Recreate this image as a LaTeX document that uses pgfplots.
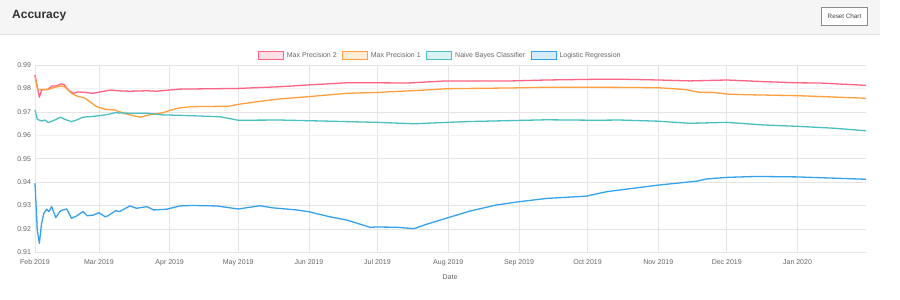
\documentclass[border=0pt]{standalone}
\usepackage{pgfplots}
\pgfplotsset{compat=1.18}
\usepackage{fontspec}
\setmainfont{Liberation Sans}
\definecolor{cred}{RGB}{255,99,132}
\definecolor{corange}{RGB}{255,159,64}
\definecolor{cteal}{RGB}{75,192,192}
\definecolor{cblue}{RGB}{54,162,235}
\definecolor{txt}{RGB}{102,102,102}
\definecolor{hdr}{RGB}{245,245,245}
\begin{document}
\begin{tikzpicture}
\useasboundingbox (0,0) rectangle (900pt,300pt);
\fill[white] (0,0) rectangle (900pt,300pt);
% header bar
\fill[hdr] (0,265.7pt) rectangle (880pt,300pt);
\draw[black!12,line width=0.6pt] (0,265.7pt) -- (880pt,265.7pt);
\node[anchor=west,font=\fontsize{12}{14}\selectfont\bfseries,text=black!80,inner sep=0pt] at (12pt,284pt) {Accuracy};
\draw[fill=white,draw=black!45,line width=0.6pt] (821.7pt,275pt) rectangle (867.3pt,292.7pt);
\node[font=\fontsize{6.3}{7}\selectfont,text=black!75,inner sep=0pt] at (844.5pt,283.8pt) {Reset Chart};
% legend
\def\ly{244.5pt}
\draw[cred,fill=cred!20,line width=0.8pt] (258.3pt,240.3pt) rectangle (283.3pt,248.7pt);
\node[anchor=west,inner sep=0pt,font=\fontsize{7}{8}\selectfont,text=txt] at (286.7pt,\ly) {Max Precision 2};
\draw[corange,fill=corange!20,line width=0.8pt] (342.7pt,240.3pt) rectangle (367.3pt,248.7pt);
\node[anchor=west,inner sep=0pt,font=\fontsize{7}{8}\selectfont,text=txt] at (370.7pt,\ly) {Max Precision 1};
\draw[cteal,fill=cteal!20,line width=0.8pt] (426.7pt,240.3pt) rectangle (451.7pt,248.7pt);
\node[anchor=west,inner sep=0pt,font=\fontsize{7}{8}\selectfont,text=txt] at (455pt,\ly) {Naive Bayes Classifier};
\draw[cblue,fill=cblue!20,line width=0.8pt] (531pt,240.3pt) rectangle (556pt,248.7pt);
\node[anchor=west,inner sep=0pt,font=\fontsize{7}{8}\selectfont,text=txt] at (559.3pt,\ly) {Logistic Regression};
\node[font=\fontsize{7}{8}\selectfont,text=txt,inner sep=0pt] at (450pt,23pt) {Date};
\begin{axis}[
  at={(35pt,47.7pt)}, anchor=south west,
  scale only axis, width=831pt, height=187.3pt,
  xmin=0, xmax=364, ymin=0.91, ymax=0.99,
  ytick={0.91,0.92,0.93,0.94,0.95,0.96,0.97,0.98,0.99},
  yticklabels={0.91,0.92,0.93,0.94,0.95,0.96,0.97,0.98,0.99},
  xtick={0,28,59,89,120,150,181,212,242,273,303,334},
  xticklabels={Feb 2019,Mar 2019,Apr 2019,May 2019,Jun 2019,Jul 2019,Aug 2019,Sep 2019,Oct 2019,Nov 2019,Dec 2019,Jan 2020},
  grid=major,
  major grid style={draw=black!10,line width=0.6pt},
  axis line style={draw=none},
  tick style={draw=none},
  ticklabel style={font=\fontsize{7}{8}\selectfont,text=txt},
  xticklabel style={yshift=-4pt},
  yticklabel style={xshift=-0.5pt},
  /pgf/number format/assume math mode=true,
  clip=false,
  every axis plot/.append style={line width=1.3pt, no markers, line join=round},
]
\addplot[draw=black!5,line width=1.4pt,forget plot] coordinates {(0,0.98) (364,0.98)};
\addplot[draw=black!5,line width=1.4pt,forget plot] coordinates {(0,0.96) (364,0.96)};
% Max Precision 2
\addplot[cred] coordinates {
(0,0.9857) (1.9,0.9762) (2.9,0.9793) (5.8,0.9796) (7.3,0.9810) (9.5,0.9810)
(11.2,0.9819) (12.8,0.9816) (14.6,0.9793) (16.8,0.9779) (19,0.9785) (21.9,0.9783)
(25.5,0.9779) (28.5,0.9785) (32.9,0.9793) (36,0.9790) (41.6,0.9788) (49,0.9790)
(53,0.9788) (63.5,0.9797) (89,0.9800) (107,0.9807) (120,0.9815) (136.5,0.9824)
(150,0.9824) (163,0.9823) (180,0.9832) (209,0.9832) (224,0.9836) (246,0.9839)
(258,0.9839) (273,0.9836) (287,0.9832) (303,0.9836) (319,0.9829) (334,0.9824)
(344,0.9823) (364,0.9813)};
% Max Precision 1
\addplot[corange] coordinates {
(0,0.9850) (1.2,0.9795) (5.8,0.9796) (8.8,0.9805) (11.2,0.9810) (13,0.9807)
(16,0.9779) (18.2,0.9768) (21.9,0.9758) (24,0.9743) (27,0.9722) (30.7,0.9711)
(35,0.9708) (38.7,0.9694) (46,0.9677) (50,0.9687) (56,0.9696) (59,0.9706)
(63.5,0.9717) (68.6,0.9722) (85,0.9724) (89,0.9732) (101,0.9748) (107,0.9755)
(120,0.9765) (136.5,0.9779) (150,0.9783) (169,0.9792) (181,0.9799) (209,0.9802)
(224,0.9805) (246,0.9805) (273,0.9803) (285,0.9795) (291,0.9783) (297,0.9783)
(303,0.9776) (312,0.9773) (334,0.9769) (364,0.9758)};
% Naive Bayes
\addplot[cteal] coordinates {
(0,0.9708) (1,0.9668) (2.9,0.9661) (4.4,0.9665) (5.8,0.9654) (8,0.9662)
(11.2,0.9677) (13,0.9668) (16,0.9658) (18.2,0.9665) (21,0.9677) (27,0.9682)
(32,0.9689) (35,0.9696) (41.6,0.9694) (49,0.9694) (56,0.9687) (63.5,0.9685)
(81,0.9679) (89,0.9664) (107,0.9665) (129,0.9660) (150,0.9655) (166,0.9649)
(188,0.9658) (224,0.9666) (246,0.9664) (256,0.9665) (273,0.9660) (287,0.9651)
(303,0.9655) (319,0.9644) (334,0.9638) (350,0.9630) (364,0.9619)};
% Logistic Regression
\addplot[cblue] coordinates {
(0,0.9395) (1,0.9195) (1.9,0.9138) (2.9,0.9224) (3.9,0.9267) (5.1,0.9284)
(6.1,0.9274) (7.3,0.9295) (9.1,0.9248) (11.2,0.9278) (13.9,0.9285) (16,0.9245)
(18.2,0.9255) (21,0.9274) (22.9,0.9256) (25.5,0.9259) (28,0.9269) (30.7,0.9252)
(32,0.9256) (35.3,0.9278) (37,0.9274) (41.6,0.9298) (44.5,0.9288) (49,0.9295)
(52,0.9281) (57.7,0.9284) (63.5,0.9298) (68.6,0.9300) (79.6,0.9298) (89,0.9285)
(98.5,0.9299) (104,0.9290) (114.6,0.9281) (120,0.9273) (129,0.9252) (136.5,0.9238)
(146.7,0.9207) (150,0.9208) (158.4,0.9207) (166,0.9201) (171.6,0.9220) (181,0.9248)
(190.5,0.9276) (202,0.9302) (212,0.9316) (224,0.9330) (241.6,0.9340) (250.4,0.9359)
(273,0.9387) (290,0.9404) (294,0.9413) (303,0.9420) (316,0.9424) (334,0.9422)
(364,0.9412)};
\end{axis}
\end{tikzpicture}
\end{document}
